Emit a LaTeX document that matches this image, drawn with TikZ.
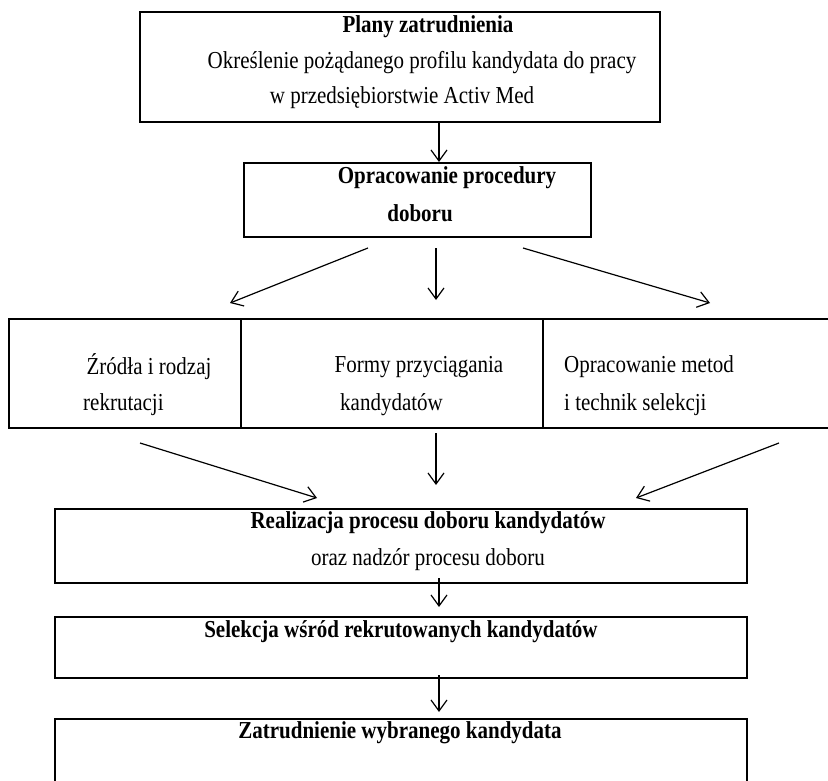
\documentclass[tikz,border=0pt]{standalone}
\usepackage{fontspec}
\setmainfont{Liberation Serif}
\usetikzlibrary{arrows.meta}
\newcommand\tallt[1]{\scalebox{1}[1.16]{#1}}
\tikzset{
  box/.style={draw, line width=1.2pt, inner sep=0pt, minimum width=#1},
  txt/.style={inner sep=0pt, font=\fontsize{21}{25}\selectfont},
  hd/.style={txt, font=\fontsize{21}{25}\selectfont\bfseries},
  arr/.style={line width=1.2pt, -{Straight Barb[length=11pt, width=16pt, line width=1.2pt]}}
}
\begin{document}
\begin{tikzpicture}[x=1pt, y=-1pt]
\useasboundingbox (0,0) rectangle (828,781);
% boxes
\node[box=520pt, minimum height=110pt] (plany) at (400,67) {};
\node[box=347pt, minimum height=74pt] (procedura) at (417.5,200) {};
\node[box=232pt, minimum height=109pt] (zrodla) at (125,373.5) {};
\node[box=302pt, minimum height=109pt] (formy) at (392,373.5) {};
\node[box=297pt, minimum height=109pt] (metody) at (691.5,373.5) {};
\node[box=692pt, minimum height=74pt] (realizacja) at (401,546) {};
\node[box=692pt, minimum height=61pt] (selekcja) at (401,647.5) {};
\node[box=692pt, minimum height=81pt] (zatrudnienie) at (401,759.5) {};
% texts
\node[hd] (plany-t) at (428,27) {\tallt{Plany zatrudnienia}};
\node[txt] (plany-a) at (422,63) {\tallt{Określenie pożądanego profilu kandydata do pracy}};
\node[txt] (plany-b) at (402,98) {\tallt{w przedsiębiorstwie Activ Med}};
\node[hd] (procedura-a) at (447,178) {\tallt{Opracowanie procedury}};
\node[hd] (procedura-b) at (420,213) {\tallt{doboru}};
\node[txt] (zrodla-a) at (149,367) {\tallt{Źródła i rodzaj}};
\node[txt, anchor=west] (zrodla-b) at (83,405) {\tallt{rekrutacji}};
\node[txt] (formy-a) at (419,367) {\tallt{Formy przyciągania}};
\node[txt, anchor=west] (formy-b) at (340,405) {\tallt{kandydatów}};
\node[txt, anchor=west] (metody-a) at (564,367) {\tallt{Opracowanie metod}};
\node[txt, anchor=west] (metody-b) at (564,405) {\tallt{i technik selekcji}};
\node[hd] (realizacja-a) at (428,523) {\tallt{Realizacja procesu doboru kandydatów}};
\node[txt] (realizacja-b) at (428,560) {\tallt{oraz nadzór procesu doboru}};
\node[hd] (selekcja-t) at (401,632) {\tallt{Selekcja wśród rekrutowanych kandydatów}};
\node[hd] (zatrudnienie-t) at (400,733) {\tallt{Zatrudnienie wybranego kandydata}};
% arrow ends
\coordinate (p1) at (439,123);  \coordinate (q1) at (439,162);
\coordinate (p2) at (368,248);  \coordinate (q2) at (230,303);
\coordinate (p3) at (436,248);  \coordinate (q3) at (436,300);
\coordinate (p4) at (523,248);  \coordinate (q4) at (710,303);
\coordinate (p5) at (140,443);  \coordinate (q5) at (317,498);
\coordinate (p6) at (436,433);  \coordinate (q6) at (436,485);
\coordinate (p7) at (779,443);  \coordinate (q7) at (636,498);
\coordinate (p8) at (439,578);  \coordinate (q8) at (439,607);
\coordinate (p9) at (439,675);  \coordinate (q9) at (439,712);
\foreach \i in {1,...,9}
  \draw[arr] (p\i) -- (q\i);
\end{tikzpicture}
\end{document}
